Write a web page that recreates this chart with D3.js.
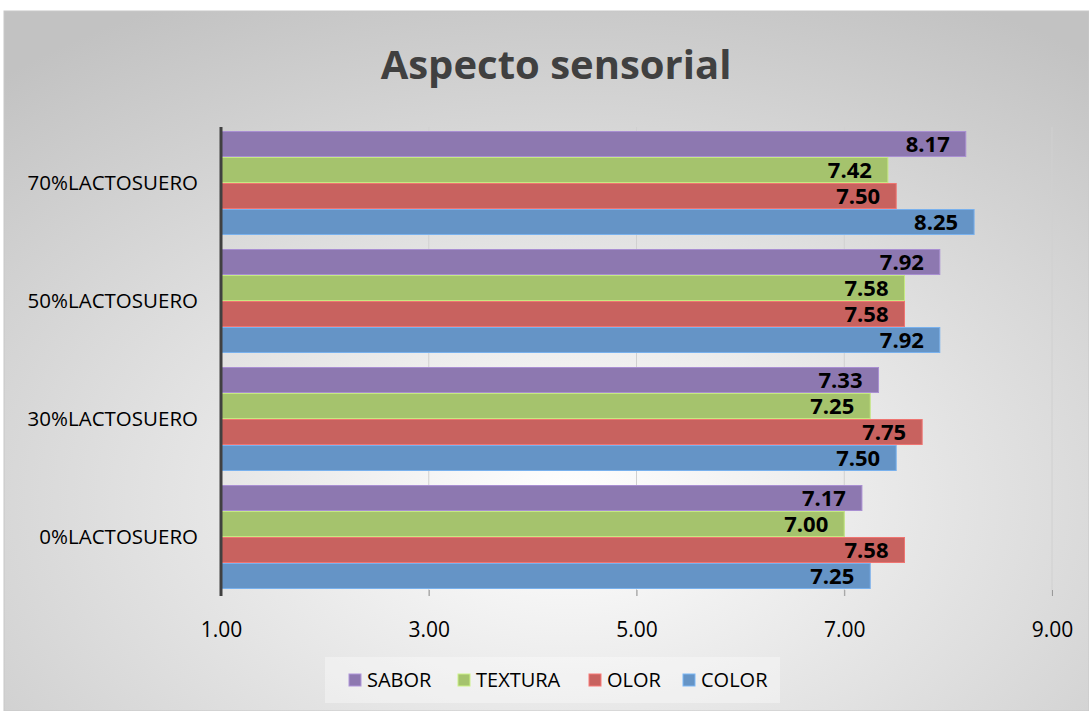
<!DOCTYPE html>
<html lang="en">
<head>
<meta charset="UTF-8">
<title>Aspecto sensorial</title>
<script src="https://d3js.org/d3.v7.min.js"></script>
<style>
  body { margin: 0; background: #fff; }
  text { font-family: "Open Sans", "DejaVu Sans", sans-serif; }
</style>
</head>
<body>
<svg width="1089" height="711" id="svg1"></svg>
<script>
var categories = ["0%LACTOSUERO", "30%LACTOSUERO", "50%LACTOSUERO", "70%LACTOSUERO"];
var seriesNames = ["SABOR", "TEXTURA", "OLOR", "COLOR"];
var seriesColors = ["#8d78b0", "#a5c36d", "#c8625f", "#6594c6"];
var sabor   = [7.17, 7.33, 7.92, 8.17];
var textura = [7.00, 7.25, 7.58, 7.42];
var olor    = [7.58, 7.75, 7.58, 7.50];
var color   = [7.25, 7.50, 7.92, 8.25];
var xTicks = [1, 3, 5, 7, 9];

var seriesValues = [sabor, textura, olor, color];
var data = [];
categories.forEach(function (c, i) {
    seriesNames.forEach(function (s, j) {
        data.push({ cat: c, series: s, value: seriesValues[j][i] });
    });
});

var svg = d3.select("#svg1");

// background with radial gradient
var defs = svg.append("defs");
var grad = defs.append("radialGradient")
    .attr("id", "bg")
    .attr("cx", "52%").attr("cy", "70%").attr("r", "80%");
grad.append("stop").attr("offset", "0%").attr("stop-color", "#ffffff");
grad.append("stop").attr("offset", "100%").attr("stop-color", "#c2c2c2");

svg.append("rect")
    .attr("x", 4).attr("y", 11)
    .attr("width", 1085).attr("height", 700)
    .attr("fill", "url(#bg)")
    .attr("stroke", "#c8c8c8");

svg.append("text")
    .attr("x", 556).attr("y", 79)
    .attr("text-anchor", "middle")
    .attr("font-size", "40px")
    .attr("font-weight", "bold")
    .attr("fill", "#404040")
    .text("Aspecto sensorial");

var plotLeft = 221, plotRight = 1052, plotTop = 127, plotBottom = 596;

var x = d3.scaleLinear().domain([1, 9]).range([plotLeft, plotRight]);
var y0 = d3.scaleBand().domain(categories.slice().reverse()).range([124, plotBottom]).paddingInner(0.1186).paddingOuter(0.0593);
var y1 = d3.scaleBand().domain(seriesNames).range([0, y0.bandwidth()]);
var col = d3.scaleOrdinal().domain(seriesNames).range(seriesColors);

// gridlines
svg.append("g")
    .selectAll("line")
    .data(xTicks.slice(1))
    .enter().append("line")
    .attr("x1", function (d) { return x(d); })
    .attr("x2", function (d) { return x(d); })
    .attr("y1", plotTop)
    .attr("y2", plotBottom)
    .attr("stroke", "#d0d0d0")
    .attr("stroke-width", 1);

var xAxis = svg.append("g")
    .attr("transform", "translate(0," + plotBottom + ")")
    .call(d3.axisBottom(x).tickValues(xTicks).tickFormat(d3.format(".2f")).tickSize(-6).tickPadding(26));
xAxis.select(".domain").remove();
xAxis.selectAll(".tick line").attr("stroke", "#9a9a9a");
xAxis.selectAll("text").attr("font-size", "21px").attr("fill", "#000");

// bars
var groups = svg.append("g")
    .selectAll("g")
    .data(data)
    .enter().append("g")
    .attr("transform", function (d) { return "translate(0," + (y0(d.cat) + y1(d.series)) + ")"; });

groups.append("rect")
    .attr("x", x(1))
    .attr("y", 0.5)
    .attr("width", function (d) { return x(d.value) - x(1); })
    .attr("height", y1.bandwidth() - 1)
    .attr("fill", function (d) { return col(d.series); })
    .attr("stroke", function (d) { return d3.color(col(d.series)).brighter(0.5); })
    .attr("stroke-width", 1);

groups.append("text")
    .attr("x", function (d) { return x(d.value) - 16; })
    .attr("y", y1.bandwidth() / 2)
    .attr("dy", "0.36em")
    .attr("text-anchor", "end")
    .attr("font-size", "22px")
    .attr("font-weight", "bold")
    .attr("fill", "#000")
    .text(function (d) { return d.value.toFixed(2); });

// y axis
var yAxis = svg.append("g")
    .attr("transform", "translate(" + plotLeft + ",0)")
    .call(d3.axisLeft(y0).tickSize(0).tickPadding(23));
yAxis.select(".domain").attr("stroke", "#404040").attr("stroke-width", 3)
    .attr("d", "M0," + plotTop + "V" + plotBottom);
yAxis.selectAll("text").attr("font-size", "20.5px").attr("fill", "#000");

// legend
var lg = svg.append("g");
lg.append("rect")
    .attr("x", 325).attr("y", 657).attr("width", 455).attr("height", 46)
    .attr("fill", "#ffffff").attr("fill-opacity", 0.35);
var legendX = [349, 458, 589, 683];
var items = lg.selectAll("g.item")
    .data(seriesNames)
    .enter().append("g")
    .attr("class", "item")
    .attr("transform", function (d, i) { return "translate(" + legendX[i] + ",680)"; });
items.append("rect")
    .attr("x", 0).attr("y", -6).attr("width", 12).attr("height", 12)
    .attr("fill", function (d) { return col(d); })
    .attr("stroke", function (d) { return d3.color(col(d)).brighter(0.6); });
items.append("text")
    .attr("x", 18).attr("dy", "0.36em")
    .attr("font-size", "20px")
    .attr("fill", "#000")
    .text(function (d) { return d; });
</script>
</body>
</html>
